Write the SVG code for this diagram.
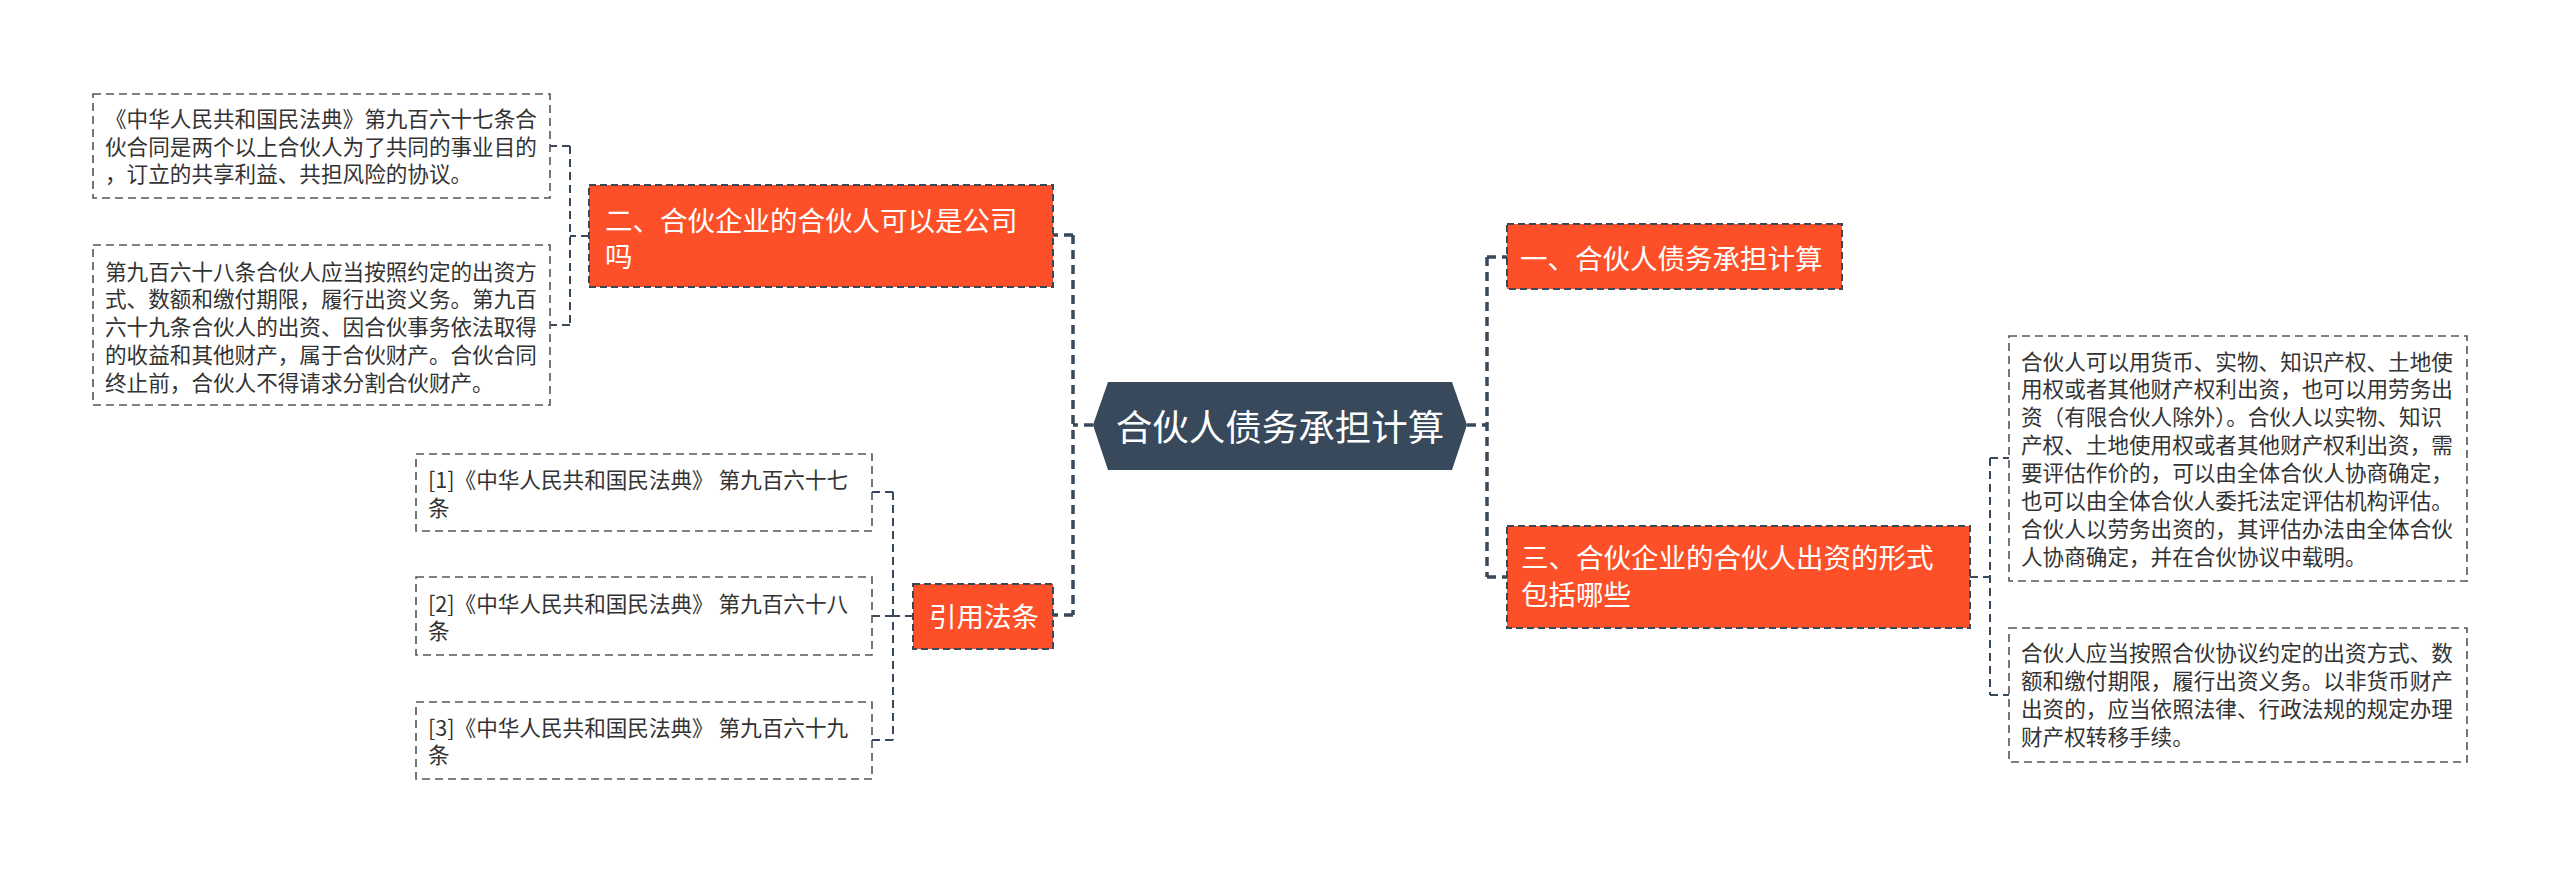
<svg xmlns="http://www.w3.org/2000/svg" width="2560" height="873" viewBox="0 0 2560 873">
<style>
text{font-family:"Noto Sans CJK SC","Liberation Sans",sans-serif}
.leaf{fill:#fff;stroke:#555;stroke-width:1.6;stroke-dasharray:8 5}
.lt{font-size:21.6px;fill:#333}
.main{fill:#fd5029;stroke:#37495b;stroke-width:2;stroke-dasharray:7 4}
.mt{font-size:27.5px;fill:#fff}
.c1{fill:none;stroke:#37495b;stroke-width:3.5;stroke-dasharray:9 6}
.c2{fill:none;stroke:#37495b;stroke-width:2;stroke-dasharray:8 5}
</style>
<rect width="2560" height="873" fill="#fff"/>
<g id="connectors">
<path class="c1" d="M1093,425H1073M1073,235V615M1073,235H1053M1073,615H1053"/>
<path class="c1" d="M1467,425H1487M1487,257V577M1487,257H1507M1487,577H1507"/>
<path class="c2" d="M589,236H570M570,146V325M570,146H550M570,325H550"/>
<path class="c2" d="M913,616H893M893,492V740M893,492H872M893,616H872M893,740H872"/>
<path class="c2" d="M1970,577H1990M1990,458V695M1990,458H2009M1990,695H2009"/>
</g>
<g id="root">
<polygon points="1093,425 1108,382 1452,382 1467,425 1452,470 1108,470" fill="#37495b"/>
<text x="1280" y="441" font-size="36.5" fill="#fff" text-anchor="middle">合伙人债务承担计算</text>
</g>
<g id="n1">
<rect class="main" x="1507" y="224" width="335" height="65"/>
<text class="mt" x="1520" y="269">一、合伙人债务承担计算</text>
</g>
<g id="n2">
<rect class="main" x="589" y="185" width="464" height="102"/>
<text class="mt" x="605" y="231">二、合伙企业的合伙人可以是公司</text>
<text class="mt" x="605" y="267">吗</text>
</g>
<g id="n3">
<rect class="main" x="1507" y="526" width="463" height="102"/>
<text class="mt" x="1521" y="568">三、合伙企业的合伙人出资的形式</text>
<text class="mt" x="1521" y="605">包括哪些</text>
</g>
<g id="n4">
<rect class="main" x="913" y="584" width="140" height="65"/>
<text class="mt" x="929" y="627">引用法条</text>
</g>
<g id="l1">
<rect class="leaf" x="93" y="94" width="457" height="104"/>
<text class="lt" x="105" y="127">《中华人民共和国民法典》第九百六十七条合</text>
<text class="lt" x="105" y="154.5">伙合同是两个以上合伙人为了共同的事业目的</text>
<text class="lt" x="105" y="182">，订立的共享利益、共担风险的协议。</text>
</g>
<g id="l2">
<rect class="leaf" x="93" y="245" width="457" height="160"/>
<text class="lt" x="105" y="279.5">第九百六十八条合伙人应当按照约定的出资方</text>
<text class="lt" x="105" y="307.3">式、数额和缴付期限，履行出资义务。第九百</text>
<text class="lt" x="105" y="335.1">六十九条合伙人的出资、因合伙事务依法取得</text>
<text class="lt" x="105" y="362.9">的收益和其他财产，属于合伙财产。合伙合同</text>
<text class="lt" x="105" y="390.7">终止前，合伙人不得请求分割合伙财产。</text>
</g>
<g id="r1">
<rect class="leaf" x="416" y="454" width="456" height="77"/>
<text class="lt" x="428" y="488">[1]《中华人民共和国民法典》 第九百六十七</text>
<text class="lt" x="428" y="516">条</text>
</g>
<g id="r2">
<rect class="leaf" x="416" y="577" width="456" height="78"/>
<text class="lt" x="428" y="612">[2]《中华人民共和国民法典》 第九百六十八</text>
<text class="lt" x="428" y="639">条</text>
</g>
<g id="r3">
<rect class="leaf" x="416" y="702" width="456" height="77"/>
<text class="lt" x="428" y="736">[3]《中华人民共和国民法典》 第九百六十九</text>
<text class="lt" x="428" y="763">条</text>
</g>
<g id="l3">
<rect class="leaf" x="2009" y="336" width="458" height="245"/>
<text class="lt" x="2021" y="369.5">合伙人可以用货币、实物、知识产权、土地使</text>
<text class="lt" x="2021" y="397.4">用权或者其他财产权利出资，也可以用劳务出</text>
<text class="lt" x="2021" y="425.3">资（有限合伙人除外）。合伙人以实物、知识</text>
<text class="lt" x="2021" y="453.2">产权、土地使用权或者其他财产权利出资，需</text>
<text class="lt" x="2021" y="481.1">要评估作价的，可以由全体合伙人协商确定，</text>
<text class="lt" x="2021" y="509">也可以由全体合伙人委托法定评估机构评估。</text>
<text class="lt" x="2021" y="536.9">合伙人以劳务出资的，其评估办法由全体合伙</text>
<text class="lt" x="2021" y="564.8">人协商确定，并在合伙协议中载明。</text>
</g>
<g id="l4">
<rect class="leaf" x="2009" y="628" width="458" height="134"/>
<text class="lt" x="2021" y="661">合伙人应当按照合伙协议约定的出资方式、数</text>
<text class="lt" x="2021" y="689">额和缴付期限，履行出资义务。以非货币财产</text>
<text class="lt" x="2021" y="717">出资的，应当依照法律、行政法规的规定办理</text>
<text class="lt" x="2021" y="745">财产权转移手续。</text>
</g>
</svg>
